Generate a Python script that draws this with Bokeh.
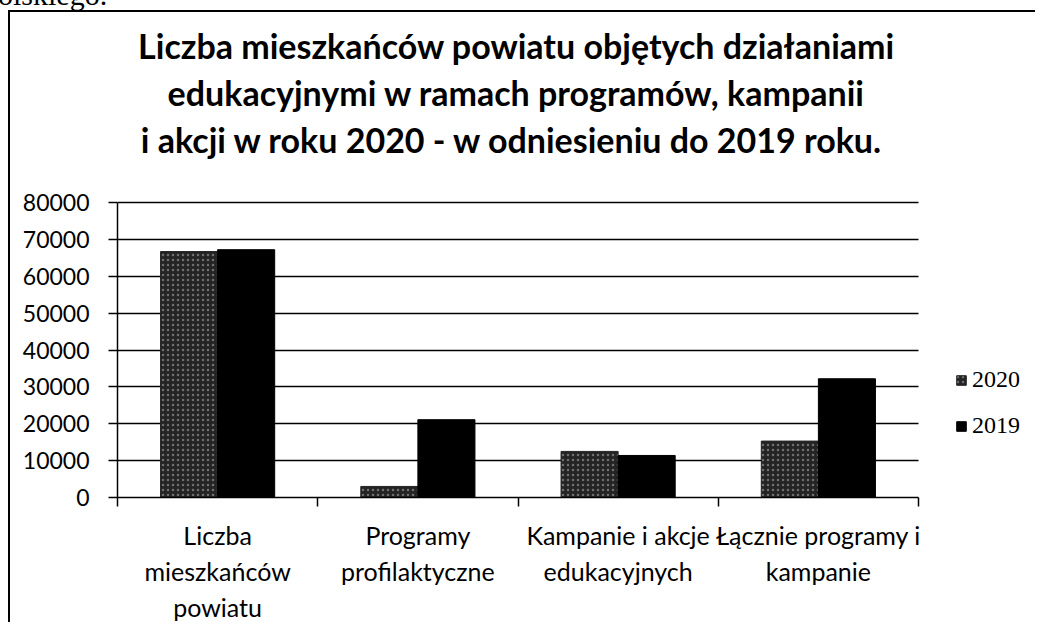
from bokeh.plotting import figure
from bokeh.layouts import column
from bokeh.models import (Range1d, FixedTicker, NumeralTickFormatter, Label, Grid,
                          Legend, LegendItem, Div)
from bokeh.embed import file_html
from bokeh.resources import INLINE

# ---- data ----
categories = ["Liczba\nmieszkańców\npowiatu", "Programy\nprofilaktyczne",
              "Kampanie i akcje\nedukacyjnych", "Łącznie programy i\nkampanie"]
values_2020 = [66700, 3000, 12500, 15300]
values_2019 = [67200, 21100, 11400, 32200]
series_names = ["2020", "2019"]
y_ticks = [0, 10000, 20000, 30000, 40000, 50000, 60000, 70000, 80000]
title_lines = ["Liczba mieszkańców powiatu objętych działaniami",
               "edukacyjnymi w ramach programów, kampanii",
               "i akcji  w roku 2020 - w odniesieniu do 2019 roku."]
page_fragment = "olskiego."

# ---- geometry (canvas pixels; canvas starts at page x=10, y=12) ----
CW, CH = 1027, 612
FL, FB = 107, 485          # frame left / bottom
Y80 = 190                  # pixel of the 80000 line
NC = len(categories)
PX_PER_CAT = 200.25
YMAX = 80000
y_end = YMAX * FB / (FB - Y80)
x_end = (CW - FL) / PX_PER_CAT

def py(v):  # canvas pixel row -> data y
    return (FB - v) * YMAX / (FB - Y80)

def pxx(v):  # canvas pixel column -> data x
    return (v - FL) / PX_PER_CAT

p = figure(width=CW, height=CH, output_backend="svg", toolbar_location=None,
           x_range=Range1d(0, x_end), y_range=Range1d(0, y_end),
           min_border_left=FL, min_border_right=0, min_border_top=0,
           min_border_bottom=CH - FB)
p.outline_line_color = None
p.background_fill_color = "white"
p.border_fill_color = "white"
p.margin = (0, 0, 0, 8)
p.styles = {"border-left": "2px solid black", "border-top": "2px solid black"}

bw = 0.285
x2020 = [i + 0.5 - bw / 2 for i in range(NC)]
x2019 = [i + 0.5 + bw / 2 for i in range(NC)]
r20 = p.vbar(x=x2020, top=values_2020, width=bw, fill_color="#242424", line_color="#242424",
             hatch_pattern="dot", hatch_color="white", hatch_alpha=0.35, hatch_scale=5,
             hatch_weight=0.7)
r19 = p.vbar(x=x2019, top=values_2019, width=bw, fill_color="black", line_color="black")

# y axis
p.yaxis.bounds = (0, YMAX)
p.yaxis.ticker = FixedTicker(ticks=y_ticks)
p.yaxis.formatter = NumeralTickFormatter(format="0")
p.yaxis.major_label_text_font = "Lato"
p.yaxis.major_label_text_font_size = "23px"
p.yaxis.major_label_text_color = "black"
p.yaxis.major_tick_out = 9
p.yaxis.major_tick_in = 0
p.yaxis.minor_tick_line_color = None
p.yaxis.axis_line_color = "black"
p.yaxis.axis_line_width = 1.5
p.yaxis.major_tick_line_width = 1.5
p.yaxis.major_label_standoff = 19

# x axis: labels at category centres, tick marks at category boundaries
centers = [i + 0.5 for i in range(NC)]
p.xaxis.bounds = (0, NC)
p.xaxis.ticker = FixedTicker(ticks=centers, minor_ticks=list(range(NC + 1)))
p.xaxis.major_label_overrides = {c: lab for c, lab in zip(centers, categories)}
p.xaxis.major_tick_line_color = None
p.xaxis.major_tick_out = 0
p.xaxis.major_tick_in = 0
p.xaxis.minor_tick_out = 9
p.xaxis.minor_tick_in = 0
p.xaxis.minor_tick_line_color = "black"
p.xaxis.minor_tick_line_width = 1.5
p.xaxis.axis_line_color = "black"
p.xaxis.axis_line_width = 1.5
p.xaxis.major_label_text_font = "Lato"
p.xaxis.major_label_text_font_size = "25px"
p.xaxis.major_label_text_color = "black"
p.xaxis.major_label_text_line_height = 1.2
p.xaxis.major_label_standoff = 13
p.xaxis.major_label_orientation = "horizontal"

# grid lines only across the category area
p.xgrid.grid_line_color = None
p.ygrid.ticker = FixedTicker(ticks=y_ticks)
p.ygrid.grid_line_color = "black"
p.ygrid.grid_line_width = 1.5
if "cross_bounds" in Grid.properties():
    p.ygrid.cross_bounds = (0, NC)
else:
    p.ygrid.grid_line_color = None
    p.segment(x0=[0] * len(y_ticks), x1=[NC] * len(y_ticks), y0=y_ticks, y1=y_ticks,
              line_color="black", line_width=1.5)

# title lines (inside the extended frame)
for k, line in enumerate(title_lines):
    p.add_layout(Label(x=pxx(506), y=py(33 + 47 * k), text=line,
                       text_align="center", text_baseline="middle", text_font="Lato",
                       text_font_style="bold", text_font_size="34px", text_color="black"))

# legend
legend = Legend(items=[LegendItem(label=series_names[0], renderers=[r20]),
                       LegendItem(label=series_names[1], renderers=[r19])],
                location=(838, 58), border_line_color=None, background_fill_alpha=0,
                label_text_font="Liberation Serif", label_text_font_size="24px",
                label_text_color="black", glyph_width=12, glyph_height=12,
                label_standoff=5, spacing=19, padding=0, margin=0)
p.add_layout(legend, "center")

# fragment of the page text above the chart
div = Div(text=('<div style="position:relative; top:-20px; left:-2px; white-space:nowrap; '
                'font-family:\'Liberation Serif\'; font-size:30px; line-height:30px; '
                'color:black;">' + page_fragment + '</div>'),
          width=1037, height=10, margin=0, styles={"overflow": "visible"})

layout = column(div, p, spacing=0)
open("out.html", "w").write(file_html(layout, INLINE))
